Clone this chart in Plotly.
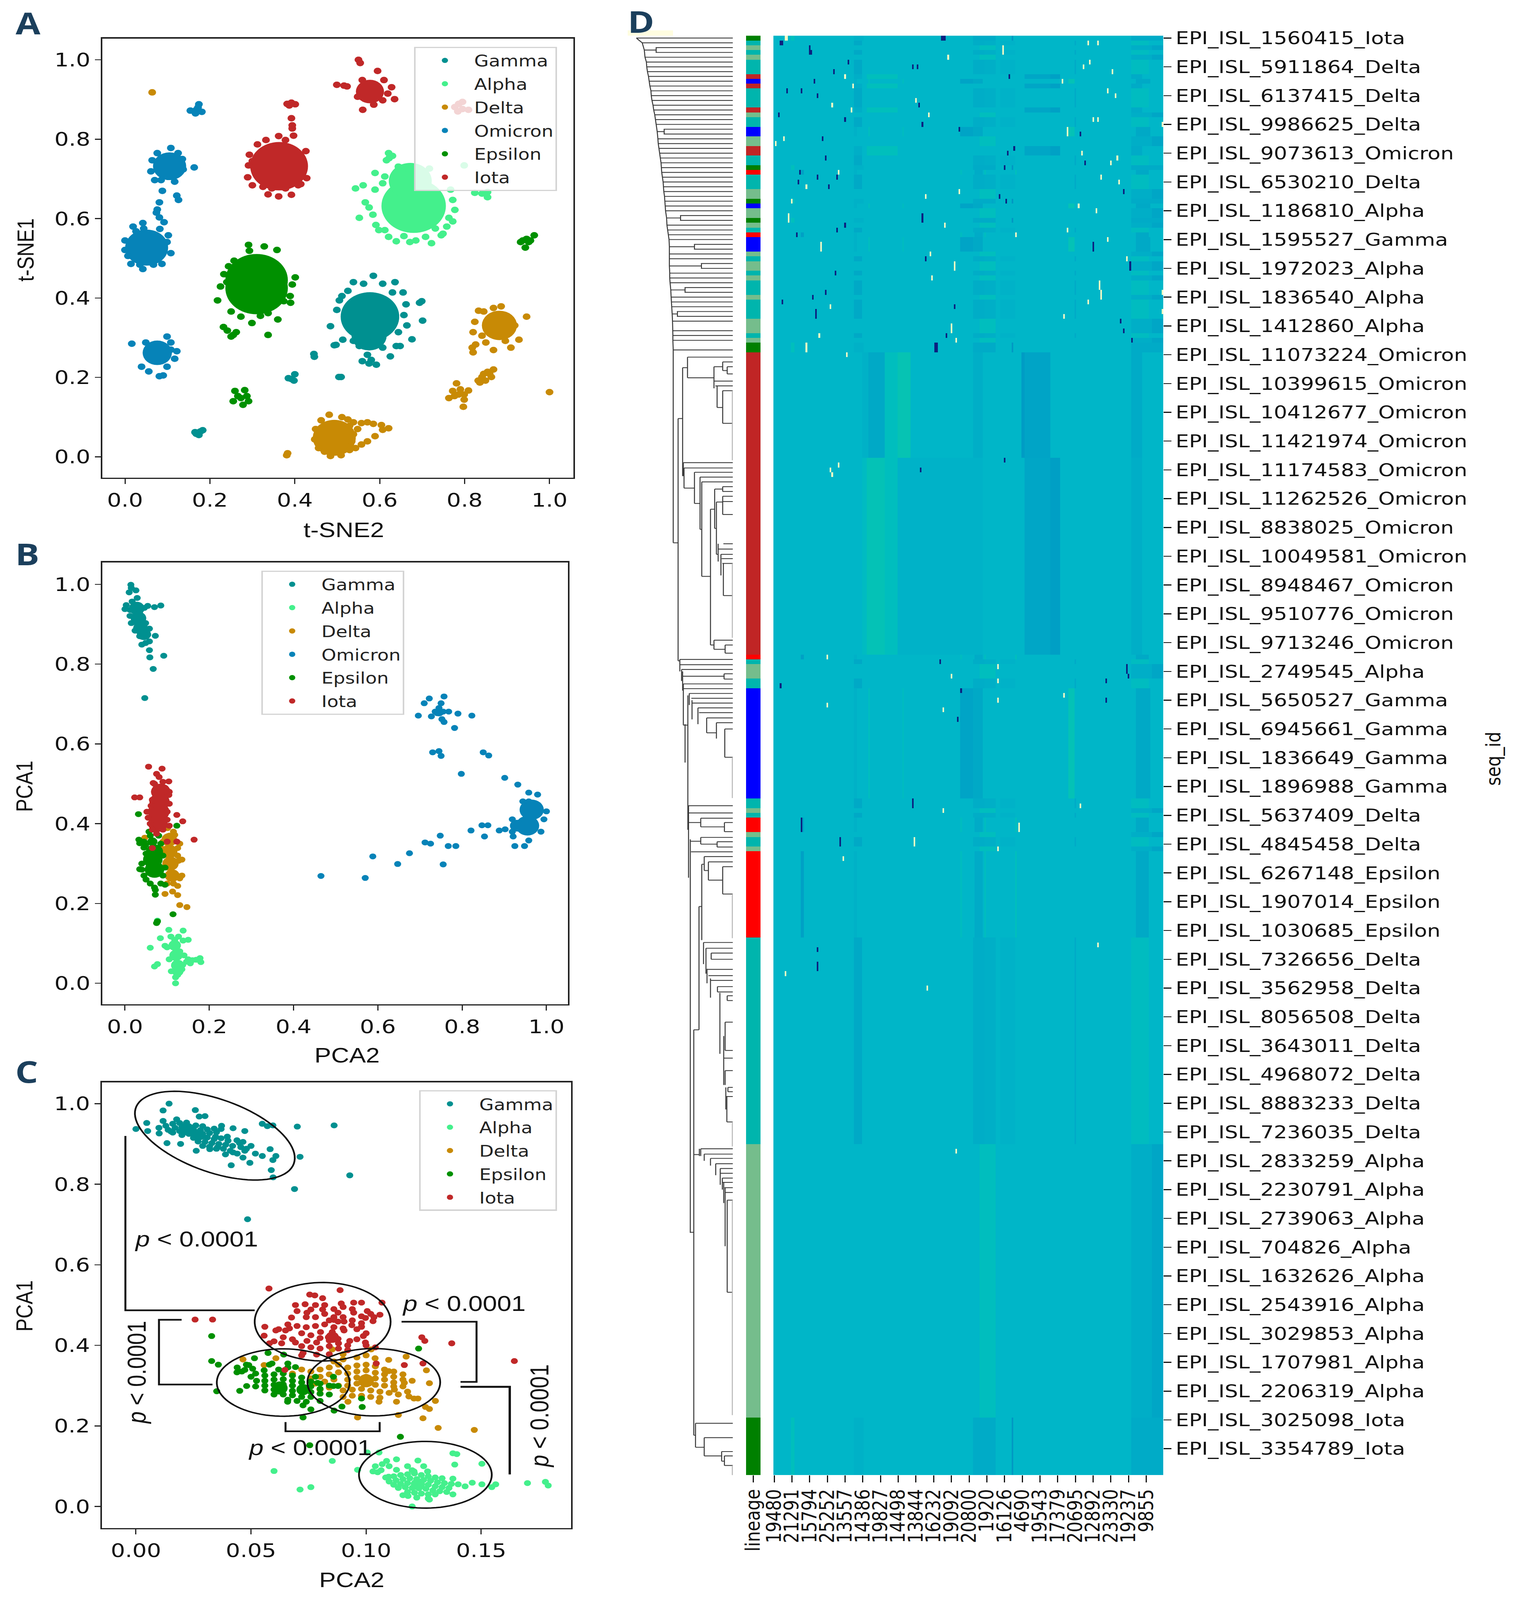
import numpy as np
import plotly.graph_objects as go

W, H = 3876, 4893
M = 40  # page margin, large enough that the legends do not push the plot area

lineages = ["Gamma", "Alpha", "Delta", "Omicron", "Epsilon", "Iota"]
colors = {"Gamma": "#009090", "Alpha": "#44F08C", "Delta": "#C88A05",
          "Omicron": "#0683B8", "Epsilon": "#009000", "Iota": "#C02828"}

# panel A, t-SNE (x, y)
a_gamma = [(.585,.456),(.538,.440),(.636,.440),(.562,.436),(.607,.436),(.525,.418),(.655,.414),(.511,.405),(.630,.414),
           (.662,.384),(.505,.394),(.499,.370),(.694,.388),(.699,.392),(.701,.343),(.657,.357),(.484,.329),(.664,.331),
           (.644,.314),(.676,.296),(.513,.295),(.538,.292),(.493,.281),(.552,.279),(.575,.288),(.607,.275),(.639,.279),
           (.625,.253),(.571,.257),(.580,.244),(.559,.241),(.575,.235),(.592,.232),(.648,.279),(.497,.282),
           (.172,.061),(.168,.058),(.178,.064),(.183,.067),(.174,.055),(.165,.062),
           (.392,.196),(.400,.208),(.385,.198),(.398,.192),(.445,.259),(.446,.252),(.509,.201),(.504,.201)]
a_alpha = [(.621,.765),(.630,.758),(.616,.747),(.622,.752),(.589,.715),(.612,.706),(.639,.711),(.644,.731),(.667,.726),
           (.717,.726),(.694,.724),(.799,.734),(.561,.684),(.543,.676),(.589,.673),(.607,.689),(.767,.673),(.824,.665),
           (.854,.667),(.854,.654),(.841,.663),(.772,.647),(.566,.641),(.575,.628),(.552,.602),(.584,.610),(.591,.584),
           (.598,.571),(.612,.571),(.777,.622),(.763,.602),(.758,.580),(.745,.558),(.722,.538),(.708,.554),(.671,.541),
           (.685,.545),(.639,.543),(.621,.554),(.657,.556),(.772,.593),(.731,.575),(.749,.562)]
a_delta = [(.064,.918),(1.0,.163),(.383,.009),(.381,.004),(.833,.368),(.845,.366),(.886,.379),(.868,.375),(.946,.353),
           (.824,.340),(.820,.314),(.841,.305),(.928,.295),(.826,.283),(.818,.275),(.820,.263),(.868,.269),(.909,.275),
           (.850,.288),(.896,.292),(.918,.331),(.855,.327),
           (.868,.220),(.854,.214),(.845,.209),(.863,.201),(.832,.192),(.849,.192),(.841,.201),(.859,.209),(.836,.187),
           (.781,.185),(.809,.167),(.799,.157),(.772,.166),(.763,.148),(.786,.157),(.776,.153),(.799,.144),(.797,.126),(.790,.170),
           (.481,.106),(.462,.092),(.449,.070),(.447,.044),(.456,.022),(.470,.013),(.484,.002),(.509,.004),(.529,.017),
           (.543,.022),(.511,.100),(.525,.094),(.538,.087),(.557,.085),(.571,.087),(.585,.083),(.604,.080),(.621,.072),
           (.607,.068),(.548,.070),(.589,.052),(.571,.039),(.557,.031),(.534,.039),(.538,.057),(.529,.078)]
a_omicron = [(.174,.888),(.154,.872),(.168,.874),(.181,.869),(.166,.865),(.172,.880),
             (.108,.778),(.076,.765),(.125,.765),(.064,.747),(.135,.750),(.061,.719),(.137,.724),(.163,.729),(.070,.697),
             (.085,.697),(.117,.693),(.088,.670),(.122,.658),(.126,.647),
             (.081,.641),(.076,.623),(.074,.615),(.081,.603),(.092,.591),(.082,.574),
             (.042,.589),(.019,.580),(.026,.568),(.044,.575),(.0,.545),(.0,.521),(.007,.506),(.014,.486),(.042,.473),
             (.067,.484),(.087,.486),(.108,.513),(.102,.558),(.099,.541),(.035,.484),
             (.016,.285),(.099,.303),(.108,.288),(.122,.266),(.117,.247),(.099,.227),(.090,.205),(.081,.203),(.039,.227),
             (.056,.215),(.108,.270),(.049,.288)]
a_epsilon = [(.291,.534),(.328,.530),(.358,.521),(.293,.519),(.257,.494),(.244,.480),(.233,.460),(.240,.440),(.225,.429),
             (.401,.452),(.394,.434),(.389,.405),(.390,.388),(.218,.394),(.250,.366),(.273,.353),(.299,.337),(.319,.355),
             (.337,.362),(.360,.346),(.374,.392),(.337,.307),(.232,.327),(.241,.318),(.255,.307),(.262,.314),(.250,.303),
             (.932,.541),(.946,.549),(.964,.558),(.955,.545),(.943,.527),(.937,.545),(.951,.541),
             (.282,.168),(.259,.166),(.255,.140),(.273,.148),(.291,.140),(.278,.131),(.266,.153),(.287,.153)]
a_iota = [(.382,.889),(.392,.892),(.401,.888),(.387,.885),(.392,.853),(.394,.835),(.394,.827),(.397,.809),(.362,.808),
          (.332,.798),(.312,.787),(.378,.798),(.293,.761),(.426,.770),(.300,.745),(.291,.734),(.289,.704),(.300,.684),
          (.428,.702),(.414,.687),(.408,.684),(.325,.680),(.337,.661),(.362,.656),(.392,.660),(.346,.676),(.378,.676),
          (.550,1.0),(.554,.992),(.595,.972),(.559,.949),(.610,.949),(.499,.937),(.516,.935),(.523,.933),(.628,.931),
          (.619,.915),(.548,.907),(.635,.901),(.607,.898),(.586,.887),(.560,.874),
          (.786,.889),(.777,.881),(.795,.876),(.809,.874),(.784,.870),(.795,.894)]
# dense middles of the clusters
a_gamma_core = [(.577,.353),(.575,.305)]
a_alpha_core = [(.680,.632),(.672,.695)]
a_delta_core = [(.882,.331),(.493,.048)]
a_omicron_core = [(.105,.732),(.051,.527),(.076,.262)]
a_epsilon_core = [(.310,.445),(.310,.425)]
a_iota_core = [(.363,.732),(.577,.920)]

# panel B, PCA
b_gamma = [(.014,.999),(.015,.991),(.026,.985),(.010,.980),(.029,.966),(.017,.957),(.003,.948),(.021,.944),(.0,.938),
           (.012,.936),(.026,.941),(.035,.932),(.054,.946),(.070,.943),(.085,.947),(.046,.941),(.012,.921),(.026,.920),
           (.040,.920),(.015,.903),(.030,.899),(.049,.903),(.024,.884),(.040,.886),(.058,.889),(.035,.870),(.054,.874),
           (.072,.871),(.040,.849),(.058,.857),(.049,.853),(.058,.835),(.092,.821),(.059,.817),(.067,.788),(.047,.715)]
b_alpha = [(.120,.0),(.125,.021),(.118,.109),(.077,.157),(.104,.134),(.138,.132),(.084,.113),(.150,.109),(.138,.107),
           (.060,.089),(.077,.048),(.070,.042),(.178,.063),(.180,.053),(.169,.059),(.155,.050),(.146,.054),(.137,.046),
           (.095,.094),(.109,.117),(.127,.117),(.100,.090),(.130,.080),(.140,.070),(.150,.060),(.160,.058),(.110,.030),
           (.120,.015),(.135,.035),(.105,.060)]
b_delta = [(.101,.389),(.118,.372),(.125,.339),(.127,.307),(.130,.263),(.125,.244),(.095,.224),(.113,.230),(.125,.221),
           (.130,.196),(.147,.191),(.047,.365),(.090,.355),(.085,.340),(.130,.350),(.125,.320),(.135,.310),(.135,.270),
           (.115,.250),(.100,.250),(.100,.290),(.115,.380),(.105,.370)]
b_omicron = [(.757,.719),(.722,.714),(.710,.702),(.750,.702),(.745,.690),(.790,.676),(.823,.671),(.696,.671),(.727,.669),
             (.741,.677),(.768,.681),(.757,.655),(.752,.662),(.782,.640),(.755,.681),(.736,.681),
             (.730,.579),(.745,.582),(.750,.570),(.850,.579),(.863,.571),(.798,.525),(.901,.515),(.932,.498),(.958,.478),
             (.979,.473),(.944,.456),(.958,.456),(1.0,.431),(.994,.411),(.987,.380),(.888,.383),(.902,.386),(.919,.411),
             (.919,.380),(.921,.368),(.925,.344),(.948,.344),(.958,.358),(.847,.396),(.861,.396),(.821,.383),(.853,.368),
             (.748,.370),(.712,.353),(.725,.350),(.767,.344),(.785,.344),(.675,.326),(.588,.318),(.647,.299),(.755,.298),
             (.465,.269),(.570,.264)]
b_epsilon = [(.032,.424),(.123,.395),(.033,.360),(.035,.351),(.057,.380),(.035,.286),(.049,.347),(.072,.222),(.077,.155),
             (.075,.151),(.114,.173),(.095,.247),(.072,.234),(.045,.340),(.050,.325),(.040,.300),(.040,.285),(.045,.270),
             (.050,.260),(.060,.250),(.070,.240),(.085,.250),(.090,.270),(.095,.290),(.090,.320),(.085,.350),(.080,.370),
             (.060,.370),(.045,.355)]
b_iota = [(.056,.543),(.088,.538),(.075,.525),(.081,.517),(.104,.506),(.023,.466),(.035,.466),(.123,.422),(.137,.406),
          (.100,.355),(.123,.355),(.164,.360),(.065,.339),(.067,.502),(.104,.472),(.060,.400),(.055,.415),(.052,.430),
          (.062,.445),(.065,.460),(.070,.480),(.070,.500),(.105,.480),(.105,.450),(.100,.430),(.100,.410),(.105,.395),
          (.090,.385),(.075,.375),(.065,.385),(.090,.505),(.095,.490)]
b_gamma_core = [(.028,.940),(.032,.915),(.037,.890),(.045,.875)]
b_alpha_core = [(.118,.095),(.121,.070),(.125,.045),(.125,.030)]
b_delta_core = [(.105,.360),(.105,.330),(.108,.300),(.112,.270)]
b_omicron_core = [(.965,.435),(.955,.395),(.930,.395),(.745,.680)]
b_epsilon_core = [(.066,.310),(.070,.285),(.070,.330),(.065,.355)]
b_iota_core = [(.085,.480),(.082,.455),(.080,.430),(.078,.400)]

# panel C, PCA zoomed in
c_gamma = [(.0144,1.0),(.0118,.983),(.0258,.984),(.0275,.968),(.030,.969),(.0,.937),(.0047,.952),(.0051,.932),(.0118,.957),
           (.0177,.961),(.0101,.926),(.0135,.902),(.0194,.900),(.0262,.883),(.0321,.887),(.0389,.874),(.0414,.847),(.0422,.879),
           (.0422,.939),(.0473,.932),(.0465,.905),(.0473,.883),(.0465,.866),(.0495,.853),(.0519,.876),(.0549,.950),(.0571,.944),
           (.0595,.946),(.0701,.943),(.0583,.887),(.0549,.870),(.0608,.870),(.0713,.868),(.0595,.860),(.0588,.835),(.0596,.817),
           (.0689,.788),(.0929,.822),(.0861,.946),(.0485,.713),(.0372,.945),(.0346,.918),(.0397,.918),(.0439,.909),(.0355,.892),
           (.0287,.918),(.0456,.892),(.0152,.931),(.0203,.944),
           (.010,.940),(.013,.945),(.016,.950),(.019,.952),(.022,.953),(.014,.935),(.017,.940),(.020,.942),(.023,.944),(.026,.946),
           (.029,.944),(.016,.928),(.019,.932),(.022,.935),(.025,.936),(.028,.934),(.031,.936),(.034,.938),(.037,.937),(.020,.922),
           (.023,.925),(.026,.926),(.029,.925),(.032,.927),(.035,.929),(.025,.915),(.028,.917),(.031,.916),(.034,.912),(.037,.914),
           (.040,.908),(.027,.906),(.030,.905),(.033,.902),(.036,.900),(.039,.898),(.029,.895),(.032,.893),(.035,.888),(.042,.895),
           (.045,.902),(.038,.888),(.041,.883),(.044,.876),(.048,.888),(.050,.895)]
c_alpha = [(.06,.088),(.0713,.042),(.076,.048),(.0853,.113),(.0963,.091),(.1377,.132),(.1394,.130),(.1503,.106),(.1005,.134),
           (.1056,.134),(.1089,.113),(.1132,.117),(.1225,.114),(.1267,.087),(.1385,.104),(.103,.087),(.12,.0),(.1275,.017),
           (.1182,.026),(.1377,.030),(.1461,.059),(.1503,.055),(.1546,.048),(.1563,.055),(.1701,.058),(.1779,.061),(.1791,.052),
           (.1377,.069),(.1098,.074),(.1132,.091),(.1208,.087),
           (.1085,.072),(.112,.075),(.115,.078),(.118,.080),(.121,.082),(.124,.078),(.127,.075),(.13,.072),(.133,.07),(.11,.062),
           (.113,.065),(.116,.068),(.119,.07),(.122,.068),(.125,.066),(.128,.064),(.131,.06),(.134,.058),(.137,.056),(.14,.055),
           (.143,.05),(.112,.054),(.115,.056),(.118,.058),(.121,.058),(.124,.056),(.127,.054),(.13,.05),(.133,.048),(.136,.046),
           (.114,.046),(.117,.048),(.12,.046),(.123,.045),(.126,.044),(.129,.04),(.132,.038),(.135,.036),(.118,.036),(.121,.034),
           (.124,.032),(.127,.03),(.13,.03),(.116,.028),(.122,.022),(.127,.02),(.11,.1),(.107,.105),(.104,.1),(.118,.1),(.125,.1),
           (.105,.085),(.1065,.09),(.12,.09)]
c_delta = [(.1313,.195),(.147,.190),(.0963,.221),(.1247,.219),(.1275,.242),(.1258,.247),(.1301,.262),(.1225,.268),(.114,.227),
           (.1186,.273),(.1132,.260),(.1275,.306),(.1262,.338),(.1174,.372),(.1098,.336),(.1166,.307),(.1123,.290),(.1208,.268),
           (.1098,.364),(.1039,.368),(.0465,.365),(.0557,.351),(.0608,.368),(.1056,.260),(.0921,.260),(.0853,.390),(.1022,.390),
           (.092,.345),(.096,.350),(.100,.352),(.104,.348),(.108,.340),(.112,.335),(.092,.330),(.096,.335),(.100,.338),(.104,.332),
           (.108,.328),(.112,.322),(.116,.328),(.092,.315),(.096,.320),(.100,.322),(.104,.318),(.108,.315),(.112,.308),(.116,.315),
           (.120,.312),(.092,.300),(.096,.305),(.100,.306),(.104,.302),(.108,.300),(.112,.298),(.116,.298),(.090,.288),(.094,.290),
           (.098,.292),(.102,.288),(.106,.285),(.110,.282),(.114,.278),(.118,.285),(.094,.275),(.098,.275),(.102,.272),(.106,.270),
           (.090,.272),(.076,.335),(.080,.340),(.084,.345),(.088,.352),(.076,.318),(.080,.322),(.084,.328),(.088,.333),(.078,.305),
           (.082,.310),(.086,.315),(.088,.300),(.084,.295),(.080,.290),(.072,.340),(.068,.330),(.086,.360),(.090,.365),(.096,.370),
           (.100,.375),(.090,.378)]
c_epsilon = [(.0329,.423),(.1228,.392),(.0329,.361),(.0358,.352),(.0351,.286),(.0574,.381),(.0642,.377),(.0515,.368),(.0439,.333),
             (.0473,.339),(.0507,.342),(.0557,.338),(.049,.351),(.0451,.287),(.0481,.299),(.0726,.221),(.0726,.251),(.076,.241),
             (.0659,.260),(.0858,.322),(.0858,.299),(.0878,.299),(.098,.268),(.0983,.247),(.0895,.248),(.0861,.238),(.1149,.173),
             (.0755,.152),(.0789,.307),(.0693,.346),(.0524,.312),(.0591,.355),
             (.046,.335),(.052,.330),(.056,.325),(.060,.328),(.064,.330),(.068,.325),(.072,.320),(.056,.312),(.060,.315),(.064,.316),
             (.068,.312),(.072,.308),(.076,.310),(.080,.305),(.052,.298),(.056,.300),(.060,.302),(.064,.303),(.068,.300),(.072,.296),
             (.076,.298),(.080,.292),(.084,.300),(.056,.288),(.060,.290),(.064,.290),(.068,.287),(.072,.284),(.076,.284),(.080,.280),
             (.084,.278),(.060,.278),(.064,.278),(.068,.276),(.072,.272),(.076,.272),(.066,.265),(.070,.262),(.074,.260),(.080,.262),
             (.062,.340),(.066,.345),(.058,.352),(.05,.322),(.078,.322),(.066,.355),(.048,.352),(.044,.345)]
c_iota = [(.0578,.541),(.0887,.537),(.0755,.526),(.0777,.524),(.0811,.517),(.0693,.500),(.0735,.502),(.1069,.506),(.0946,.506),
          (.098,.506),(.0892,.504),(.076,.489),(.0811,.489),(.0676,.469),(.0743,.481),(.0257,.464),(.0333,.464),(.0878,.481),
          (.0946,.481),(.1005,.485),(.1034,.470),(.0997,.468),(.0861,.463),(.0904,.459),(.0938,.450),(.098,.446),(.065,.437),
          (.0608,.437),(.0667,.442),(.0557,.424),(.0633,.405),(.0693,.407),(.0743,.411),(.0785,.407),(.0802,.433),(.0853,.433),
          (.0836,.420),(.0878,.416),(.0929,.411),(.0988,.423),(.0997,.407),(.0904,.437),(.1242,.420),(.1255,.411),(.1372,.405),
          (.1644,.361),(.1247,.355),(.1166,.351),(.1044,.355),(.0647,.339),(.0785,.377),(.0726,.381),(.0878,.459),
          (.066,.452),(.070,.448),(.074,.445),(.078,.448),(.082,.452),(.086,.445),(.090,.442),(.094,.462),(.098,.472),(.102,.478),
          (.072,.430),(.076,.425),(.080,.418),(.084,.412),(.088,.405),(.092,.400),(.096,.415),(.100,.430),(.068,.415),(.072,.398),
          (.076,.395),(.080,.392),(.084,.398),(.088,.392),(.092,.388),(.060,.410),(.064,.420),(.058,.405),(.078,.470),(.082,.478),
          (.086,.490),(.090,.470),(.094,.490),(.098,.455),(.086,.470),(.082,.500),(.090,.495),(.084,.462),(.074,.470),(.078,.500),
          (.070,.485),(.062,.440),(.056,.446),(.103,.460),(.106,.476),(.096,.440),(.1,.400),(.104,.395),(.072,.375),(.084,.378)]
c_gamma_core = [(.023,.935),(.027,.922)]
c_alpha_core = [(.1225,.055)]
c_delta_core = [(.100,.312)]
c_epsilon_core = [(.0625,.294),(.0726,.290)]
c_iota_core = [(.0853,.420)]

# panel D labels
row_labels = ["EPI_ISL_1560415_Iota", "EPI_ISL_5911864_Delta", "EPI_ISL_6137415_Delta", "EPI_ISL_9986625_Delta",
              "EPI_ISL_9073613_Omicron", "EPI_ISL_6530210_Delta", "EPI_ISL_1186810_Alpha", "EPI_ISL_1595527_Gamma",
              "EPI_ISL_1972023_Alpha", "EPI_ISL_1836540_Alpha", "EPI_ISL_1412860_Alpha", "EPI_ISL_11073224_Omicron",
              "EPI_ISL_10399615_Omicron", "EPI_ISL_10412677_Omicron", "EPI_ISL_11421974_Omicron", "EPI_ISL_11174583_Omicron",
              "EPI_ISL_11262526_Omicron", "EPI_ISL_8838025_Omicron", "EPI_ISL_10049581_Omicron", "EPI_ISL_8948467_Omicron",
              "EPI_ISL_9510776_Omicron", "EPI_ISL_9713246_Omicron", "EPI_ISL_2749545_Alpha", "EPI_ISL_5650527_Gamma",
              "EPI_ISL_6945661_Gamma", "EPI_ISL_1836649_Gamma", "EPI_ISL_1896988_Gamma", "EPI_ISL_5637409_Delta",
              "EPI_ISL_4845458_Delta", "EPI_ISL_6267148_Epsilon", "EPI_ISL_1907014_Epsilon", "EPI_ISL_1030685_Epsilon",
              "EPI_ISL_7326656_Delta", "EPI_ISL_3562958_Delta", "EPI_ISL_8056508_Delta", "EPI_ISL_3643011_Delta",
              "EPI_ISL_4968072_Delta", "EPI_ISL_8883233_Delta", "EPI_ISL_7236035_Delta", "EPI_ISL_2833259_Alpha",
              "EPI_ISL_2230791_Alpha", "EPI_ISL_2739063_Alpha", "EPI_ISL_704826_Alpha", "EPI_ISL_1632626_Alpha",
              "EPI_ISL_2543916_Alpha", "EPI_ISL_3029853_Alpha", "EPI_ISL_1707981_Alpha", "EPI_ISL_2206319_Alpha",
              "EPI_ISL_3025098_Iota", "EPI_ISL_3354789_Iota"]
col_labels = ["19480", "21291", "15794", "25252", "13557", "14386", "19827", "14498", "13844", "16232", "19092",
              "20800", "1920", "16126", "4690", "19543", "17379", "20695", "12892", "23330", "19237", "9855"]

# lineage of each run of rows: (first row, last row, name)
lineage_runs = [(0,0,"Iota"),(1,1,"Delta"),(2,2,"Alpha"),(3,3,"Delta"),(4,4,"Alpha"),(5,7,"Delta"),(8,8,"Omicron"),(9,9,"Gamma"),
                (10,10,"Omicron"),(11,14,"Delta"),(15,15,"Omicron"),(16,16,"Alpha"),(17,18,"Delta"),(19,20,"Gamma"),(21,22,"Alpha"),
                (23,24,"Omicron"),(25,26,"Delta"),(27,27,"Iota"),(28,28,"Epsilon"),(29,31,"Delta"),(32,33,"Alpha"),(34,34,"Iota"),
                (35,35,"Gamma"),(36,37,"Alpha"),(38,38,"Iota"),(39,39,"Alpha"),(40,40,"Delta"),(41,41,"Epsilon"),(42,44,"Gamma"),
                (45,45,"Alpha"),(46,46,"Delta"),(47,48,"Alpha"),(49,49,"Delta"),(50,50,"Alpha"),(51,53,"Delta"),(54,54,"Alpha"),
                (55,58,"Delta"),(59,61,"Alpha"),(62,62,"Delta"),(63,63,"Alpha"),(64,65,"Iota"),(66,128,"Omicron"),(129,129,"Epsilon"),
                (130,130,"Delta"),(131,133,"Alpha"),(134,135,"Delta"),(136,158,"Gamma"),(159,160,"Delta"),(161,161,"Alpha"),
                (162,162,"Delta"),(163,165,"Epsilon"),(166,166,"Alpha"),(167,168,"Delta"),(169,169,"Alpha"),(170,187,"Epsilon"),
                (188,230,"Delta"),(231,287,"Alpha"),(288,299,"Iota")]

# shaded column ranges per lineage: (first col, last col, value)
bands_delta = [(50,55,.45),(124,131,.465),(131,138,.475),(141,150,.485),(187,188,.46),(222,233,.54)]
bands_alpha = [(128,138,.55),(222,235,.47),(235,242,.44)]
bands_gamma = [(50,52,.48),(59,60,.55),(80,81,.54),(116,124,.43),(124,130,.45),(183,187,.58),(225,234,.45)]
bands_epsilon = [(17,19,.42),(50,52,.48),(116,117,.54),(125,130,.46),(131,132,.55),(150,151,.56),(225,233,.45)]
bands_iota = [(11,13,.56),(50,56,.48),(124,138,.46),(148,149,.39),(222,242,.46)]
bands_omicron = [(50,55,.47),(58,77,.56),(156,172,.44),(172,178,.42),(222,229,.46)]
bands_omicron_upper = [(55,59,.48),(59,69,.45),(69,77,.55),(77,85,.59),(124,130,.47),(154,156,.40),(156,172,.43),(222,229,.46)]
bands_omicron_lower = [(55,58,.53),(58,69,.58),(69,77,.55),(77,130,.485),(156,172,.44),(172,178,.41),(222,229,.47)]

speck_dark = [(0,104),(0,105),(0,106),(1,4),(1,5),(2,22),(3,22),(3,23),(5,46),(6,86),(6,89),(7,37),(8,146),(9,25),(11,8),(11,17),
              (12,27),(14,90),(16,3),(17,44),(18,92),(19,115),(20,190),(21,30),(23,149),(24,145),(25,32),(26,193),(27,143),(28,16),
              (29,27),(29,39),(30,15),(31,34),(32,217),(33,140),(34,144),(37,92),(38,92),(39,44),(40,39),(41,14),(43,198),(44,198),
              (46,94),(47,221),(48,221),(49,38),(53,32),(54,24),(55,5),(56,112),(57,26),(58,26),(59,215),(61,217),(62,107),(63,222),
              (64,100),(64,101),(65,100),(65,101),(88,143),(90,91),(130,103),(131,219),(132,219),(133,220),(135,4),(134,206),
              (136,116),(138,206),(142,114),(159,86),(160,86),(163,17),(164,17),(165,17),(167,41),(168,41),(190,27),(193,27),(194,27)]
speck_pale = [(0,7),(0,8),(1,195),(1,201),(2,142),(3,142),(4,108),(5,196),(6,192),(7,210),(8,44),(9,179),(10,49),(11,207),(12,212),
              (13,88),(14,36),(15,48),(16,96),(17,198),(17,201),(18,241),(19,182),(20,182),(21,6),(22,1),(24,191),(25,213),(26,209),
              (28,40),(29,203),(30,214),(31,20),(32,115),(33,94),(34,11),(35,189),(36,200),(37,9),(38,9),(39,106),(40,182),(41,150),
              (42,207),(43,29),(44,29),(45,97),(46,219),(47,112),(48,112),(50,98),(51,202),(52,202),(53,203),(54,203),(53,241),
              (55,195),(56,35),(57,241),(58,180),(60,110),(61,110),(62,28),(63,113),(64,20),(65,20),(66,45),(89,40),(90,35),(91,36),
              (129,33),(131,139),(133,110),(134,139),(138,139),(139,33),(140,105),(137,180),(160,190),(161,105),(164,152),(165,152),
              (167,87),(168,87),(169,139),(171,43),(189,201),(195,7),(198,95),(232,113)]

# dendrogram, in its own distance scale (leaves at 332)
dend_spine = [(0,55),(1,72),(2.5,78),(4,80),(5,84),(6,85),(7,87),(8,90),(9,92),(10,94),(11,97),(12,98),(13,100),(14,103),(15,105),
              (16,108),(17,110),(18,112),(19.5,115),(21,117),(22,118),(23,120),(24,122),(25,124),(26,126),(27,127),(28,128),(29,130),
              (30,132),(31,133),(32,134),(33,136),(34,137),(35,138),(36,139),(37.5,142),(39,143),(40,145),(41,147),(42,149),(43.5,150),
              (45,150),(46,150),(47.5,150),(49,151),(50,151),(51,152),(52.5,154),(54,155),(55,156),(56,157),(57.5,158),(59,159),
              (61,160),(62,160),(63,160),(65,161),(105.2,161)]
dend_pairs = [(2,3,112),(19,20,135),(37,38,182),(43,44,222),(47,48,242),(52,53,195),(57,58,173)]
# (row, from, to)
dend_h = [(0,55,332),(1,72,332),(2.5,78,112),(4,80,332),(5,84,332),(6,85,332),(7,87,332),(8,90,332),(9,92,332),(10,94,332),(11,97,332),
          (12,98,332),(13,100,332),(14,103,332),(15,105,332),(16,108,332),(17,110,332),(18,112,332),(19.5,115,135),(21,117,332),
          (22,118,332),(23,120,332),(24,122,332),(25,124,332),(26,126,332),(27,127,332),(28,128,332),(29,130,332),(30,132,332),
          (31,133,332),(32,134,332),(33,136,332),(34,137,332),(35,138,332),(36,139,332),(37.5,142,182),(39,143,332),(40,145,332),
          (41,147,332),(42,149,332),(43.5,150,222),(45,150,332),(46,150,332),(47.5,150,242),(49,151,332),(50,151,332),(51,152,332),
          (52.5,154,195),(54,155,332),(55,156,332),(56,157,332),(57.5,158,173),(59,159,332),(61,160,332),(62,160,332),(63,160,332),
          (65,161,332),(105.2,161,175),
          (79.3,175,188),(68.7,188,202),(66.5,202,332),(70.8,202,278),(68.5,278,303),(67.5,303,332),(69.3,303,316),(68.5,316,332),(70,316,332),
          (71.5,278,332),(72.5,282,332),(73.5,303,332),(80.3,303,332),(77,287,303),
          (88.5,190,332),(89.6,192,332),(93.8,192,222),(90.5,222,332),(97,222,238),(91.5,238,332),(102.4,238,243),(92.5,243,332),(112.2,243,268),
          (98.2,268,280),(94,280,303),(93.5,303,332),(94.5,303,332),(102.2,280,285),(96.7,285,303),(95.5,303,332),(96.6,303,332),(99.3,303,332),
          (107.6,285,290),(105.4,305,332),(106.5,290,332),(107.6,298,332),(108.5,300,332),(109.5,302,332),(116.2,305,332),
          (126.5,268,278),(125.5,278,332),(127.4,278,310),(126.5,310,332),(128.2,310,332),
          (129.8,175,180),(129.5,180,332),(130.6,180,332),(131.6,185,332),(133,188,307),(132.5,307,332),(133.6,307,332),(134.6,190,332),(135.6,190,332),
          (136.6,207,332),(137.6,213,332),(138.6,215,332),(139.6,232,332),(140.6,235,332),(141.7,257,332),(142.7,285,332),(144,309,332),(149.9,309,332),
          (144.8,257,285),(143.2,190,203),
          (160,203,332),(161.5,205,332),(162.6,240,332),(163.5,205,240),(164.4,240,308),(163.5,308,332),(165.4,308,332),
          (167.4,210,240),(166.6,240,332),(168,240,287),(167.5,287,332),(168.6,287,332),(169.6,212,332),
          (172.2,243,250),(170.6,250,332),(173.5,250,262),(171.7,262,332),(175.5,262,303),(172.7,303,332),(178.4,303,332),(181,235,243),
          (188.5,248,332),(189.7,255,332),(190.7,270,332),(192,270,332),(194.1,258,332),(195.4,262,332),(196.4,268,332),(197.7,288,332),
          (198.8,288,332),(199.6,316,332),(200.6,316,332),(205.1,310,332),(211,310,332),(212.6,306,332),(215.2,310,332),(218.7,318,332),
          (219.6,318,332),(220.6,312,332),(225.9,315,332),(206.7,220,235),(248.9,210,220),
          (232.7,220,236),(231.5,240,332),(232.6,250,332),(233.5,268,332),(234.6,283,332),(235.6,296,332),(236.6,296,332),(237.6,302,332),
          (238.5,302,332),(239.6,308,332),(240.6,310,332),(242.2,316,332),(261.4,316,332),
          (291.2,220,225),(288.7,225,332),(293.7,225,250),(291.7,250,332),(295.5,250,300),(294.6,300,332),(296.6,300,308),(295.5,308,332),(297.5,308,332)]
# (distance, from row, to row)
dend_v = [(175,79.3,129.8),(188,68.7,91.3),(202,66.5,70.8),(278,68.5,73),(303,67.5,69.3),(316,68.5,70),(287,72.5,77),(303,73.5,80.3),
          (190,88.5,91.3),(192,89.6,93.8),(222,90.5,97),(238,91.5,102.4),(243,92.5,112.2),(268,98.2,126.5),(280,94,102.2),(303,93.5,94.5),
          (285,96.7,107.6),(303,95.5,99.3),(290,105.4,109.1),(298,107.6,112),(305,109.5,116.2),(278,125.5,127.4),(310,126.5,128.2),
          (180,129.5,132),(185,131.6,134),(188,132,136),(307,132.5,133.6),(190,134.6,143.2),(195,143,151),(203,137,165),(205,160,175),
          (207,136.6,139),(215,138,142),(232,139.6,143),(257,141.7,144.8),(285,142.7,146),(309,144,149.9),(240,162.6,164.4),(308,163.5,165.4),
          (210,167,249),(240,166.6,168),(287,167.5,168.6),(235,181,206.7),(243,172.2,188),(250,170.6,173.5),(262,171.7,175.5),(303,172.7,178.4),
          (248,188.5,193),(255,189.7,195),(270,190.7,192),(258,194,197),(268,196,200),(288,197.7,198.8),(295,199,211.7),(316,199.6,200.6),
          (310,205.1,211),(306,208,218.2),(310,215.2,218.2),(318,218.7,219.6),(312,218.7,223.3),(315,220.6,225.9),
          (220,206.7,291.2),(236,231.5,233),(240,231.5,233),(250,232.6,234),(268,233.5,235),(283,234.6,237),(296,235.6,239),(302,237.6,240),
          (306,238.5,242.8),(310,239.6,251.8),(316,242.2,261.4),(225,288.7,293.7),(250,291.7,295.5),(300,294.6,296.6),(308,295.5,297.5)]
# runs of leaves that merge at almost zero distance
dend_leaf_runs = [(73.5,80.3),(80.3,88),(109.5,116.2),(116.2,125),(149.9,158.4),(178.4,187.6),(225.9,231),(242.2,261.4),(261.4,287),(297.5,299.6)]


def paper(x, y):
    return (x - M) / (W - 2 * M), 1 - (y - M) / (H - 2 * M)


def dom_x(a, b):
    return [paper(a, 0)[0], paper(b, 0)[0]]


def dom_y(a, b):
    return [paper(0, b)[1], paper(0, a)[1]]


def polyline(points):
    parts = []
    for i, (x, y) in enumerate(points):
        px, py = paper(x, y)
        parts.append(("M" if i == 0 else "L") + f"{px:.5f},{py:.5f}")
    return " ".join(parts)


def ellipse(cx, cy, rx, ry, tilt=0):
    t = np.linspace(0, 2 * np.pi, 90)
    tr = np.radians(tilt)
    xs = cx + rx * np.cos(t) * np.cos(tr) - ry * np.sin(t) * np.sin(tr)
    ys = cy + rx * np.cos(t) * np.sin(tr) + ry * np.sin(t) * np.cos(tr)
    return polyline(list(zip(xs, ys))) + " Z"


def add_panel(fig, points, cores, core_sizes, xa, ya, legend, size):
    for name in points:
        core = cores[name]
        fig.add_trace(go.Scatter(x=[p[0] for p in core], y=[p[1] for p in core], mode="markers",
                                 marker=dict(color=colors[name], size=core_sizes[name], opacity=1, line_width=0),
                                 xaxis=xa, yaxis=ya, showlegend=False, hoverinfo="skip"))
        fig.add_trace(go.Scatter(x=[p[0] for p in points[name]], y=[p[1] for p in points[name]], mode="markers",
                                 name=name, legend=legend, legendgroup=legend + name,
                                 marker=dict(color=colors[name], size=size, line_width=0),
                                 xaxis=xa, yaxis=ya))


fig = go.Figure()

add_panel(fig,
          {"Gamma": a_gamma, "Alpha": a_alpha, "Delta": a_delta, "Omicron": a_omicron, "Epsilon": a_epsilon, "Iota": a_iota},
          {"Gamma": a_gamma_core, "Alpha": a_alpha_core, "Delta": a_delta_core, "Omicron": a_omicron_core,
           "Epsilon": a_epsilon_core, "Iota": a_iota_core},
          {"Gamma": [150, 90], "Alpha": [165, 110], "Delta": [90, 110], "Omicron": [85, 110, 75],
           "Epsilon": [160, 160], "Iota": [148, 72]},
          "x", "y", "legend", 20)
add_panel(fig,
          {"Gamma": b_gamma, "Alpha": b_alpha, "Delta": b_delta, "Omicron": b_omicron, "Epsilon": b_epsilon, "Iota": b_iota},
          {"Gamma": b_gamma_core, "Alpha": b_alpha_core, "Delta": b_delta_core, "Omicron": b_omicron_core,
           "Epsilon": b_epsilon_core, "Iota": b_iota_core},
          {"Gamma": [40, 40, 38, 36], "Alpha": [32, 34, 34, 30], "Delta": [40, 42, 42, 38], "Omicron": [62, 60, 36, 26],
           "Epsilon": [50, 50, 44, 26], "Iota": [50, 52, 55, 50]},
          "x2", "y2", "legend2", 18)
add_panel(fig,
          {"Gamma": c_gamma, "Alpha": c_alpha, "Delta": c_delta, "Epsilon": c_epsilon, "Iota": c_iota},
          {"Gamma": c_gamma_core, "Alpha": c_alpha_core, "Delta": c_delta_core, "Epsilon": c_epsilon_core, "Iota": c_iota_core},
          {"Gamma": [36, 34], "Alpha": [36], "Delta": [40], "Epsilon": [40, 34], "Iota": [34]},
          "x3", "y3", "legend3", 18)

# dendrogram
dx, dy = [], []
for row, x0, x1 in dend_h:
    dx += [x0, x1, None]
    dy += [row, row, None]
for x, r0, r1 in dend_v:
    dx += [x, x, None]
    dy += [r0, r1, None]
for r0, r1, x in dend_pairs:
    dx += [332, x, x, 332, None]
    dy += [r0, r0, r1, r1, None]
dx += [p[1] for p in dend_spine] + [None]
dy += [p[0] for p in dend_spine] + [None]
fig.add_trace(go.Scatter(x=dx, y=dy, mode="lines", line=dict(color="#3a3a3a", width=2.6),
                         xaxis="x4", yaxis="y4", showlegend=False, hoverinfo="skip"))
lx, ly = [], []
for r0, r1 in dend_leaf_runs:
    lx += [331, 331, None]
    ly += [r0, r1, None]
fig.add_trace(go.Scatter(x=lx, y=ly, mode="lines", line=dict(color="#b4b4b4", width=3),
                         xaxis="x4", yaxis="y4", showlegend=False, hoverinfo="skip"))

# lineage strip and the heatmap built from the rows' runs, bands and specks
n_rows, n_cols = 300, 242
strip_names = ["Gamma", "Alpha", "Delta", "Omicron", "Epsilon", "Iota"]
strip_colors = ["#0000FF", "#75BD8C", "#00B5AD", "#C02525", "#FF0000", "#008000"]
lineage_bands = {"Delta": bands_delta, "Alpha": bands_alpha, "Gamma": bands_gamma, "Epsilon": bands_epsilon,
                 "Iota": bands_iota, "Omicron": bands_omicron}
z = np.full((n_rows, n_cols), 0.5)
strip = np.zeros((n_rows, 1))
for r0, r1, name in lineage_runs:
    strip[r0:r1 + 1, 0] = strip_names.index(name)
    bands = lineage_bands[name]
    if r0 == 66:
        for c0, c1, v in bands_omicron_upper:
            z[66:88, c0:c1] = v
        for c0, c1, v in bands_omicron_lower:
            z[88:129, c0:c1] = v
        continue
    for c0, c1, v in bands:
        z[r0:r1 + 1, c0:c1] = v
for r, c in speck_dark:
    z[r, c] = 0.0
for r, c in speck_pale:
    z[r, c] = 1.0

n = len(strip_colors)
strip_scale = []
for i, c in enumerate(strip_colors):
    strip_scale += [[i / n, c], [(i + 1) / n, c]]
fig.add_trace(go.Heatmap(z=strip.tolist(), x=["lineage"], y=list(range(n_rows)), zmin=-0.5, zmax=n - 0.5,
                         colorscale=strip_scale, showscale=False, xaxis="x5", yaxis="y5", hoverinfo="skip"))
fig.add_trace(go.Heatmap(z=z.tolist(), x=list(range(n_cols)), y=list(range(n_rows)), zmin=0, zmax=1,
                         colorscale=[[0, "#0B2080"], [.2, "#0A4FB0"], [.4, "#009CC4"], [.44, "#00A6C6"], [.5, "#00B6C8"],
                                     [.56, "#00BFBC"], [.6, "#08C4B0"], [.8, "#80D8A8"], [1, "#F2F8C4"]],
                         showscale=False, xaxis="x6", yaxis="y6", hoverinfo="skip"))

tick_font = dict(family="DejaVu Sans", size=58, color="#111111")
box = dict(showline=True, linecolor="#222222", linewidth=4, mirror=True, showgrid=False, zeroline=False,
           ticks="outside", ticklen=15, tickwidth=3, tickcolor="#222222", tickfont=tick_font)
unit_ticks = [0, .2, .4, .6, .8, 1]
unit_text = ["0.0", "0.2", "0.4", "0.6", "0.8", "1.0"]


def legend_box(left, top):
    x, y = paper(left, top)
    return dict(x=x, y=y, xanchor="left", yanchor="top", xref="paper", yref="paper", bgcolor="rgba(255,255,255,0.8)",
                bordercolor="#D4D4D4", borderwidth=4, traceorder="grouped", tracegroupgap=6, itemwidth=140,
                itemsizing="trace", font=dict(family="DejaVu Sans", size=48, color="#222222"))


leaf_axis = dict(showline=False, showgrid=False, zeroline=False, showticklabels=False, ticks="")
row_range = [n_rows - 0.5, -0.5]


def note(x, y, text, family="Liberation Sans", size=64, angle=0, anchor="center", color="#111111"):
    px, py = paper(x, y)
    return dict(x=px, y=py, xref="paper", yref="paper", text=text, showarrow=False, textangle=angle,
                xanchor=anchor, yanchor="middle", font=dict(family=family, size=size, color=color))


pvalue_text = "<i>p</i> &lt; 0.0001"
annotations = [note(343, 3789, pvalue_text, size=66, anchor="left"), note(1028, 3986, pvalue_text, size=66, anchor="left"),
               note(634, 4427, pvalue_text, size=66, anchor="left"), note(350, 4197, pvalue_text, size=66, angle=-90),
               note(1381, 4330, pvalue_text, size=66, angle=-90),
               note(880, 1620, "t-SNE2"), note(65, 765, "t-SNE1", size=60, angle=-90),
               note(888, 3227, "PCA2"), note(62, 2405, "PCA1", size=60, angle=-90),
               note(900, 4831, "PCA2"), note(62, 3994, "PCA1", size=60, angle=-90),
               note(3823, 2320, "seq_id", family="DejaVu Sans", size=52, angle=-90)]
for letter, x, y in [("A", 72, 69), ("B", 70, 1693), ("C", 68, 3275), ("D", 1641, 65)]:
    annotations.append(note(x, y, f"<b>{letter}</b>", family="Open Sans", size=92, color="#1B3F5C"))

ring = dict(color="#111111", width=4.5)
bracket = dict(color="#111111", width=5)
shapes = [
    dict(type="path", path=ellipse(550, 3473, 220, 109, 25), xref="paper", yref="paper", line=ring),
    dict(type="path", path=ellipse(826, 4042, 174, 120), xref="paper", yref="paper", line=ring),
    dict(type="path", path=ellipse(725, 4228, 170, 103), xref="paper", yref="paper", line=ring),
    dict(type="path", path=ellipse(957, 4227, 170, 103), xref="paper", yref="paper", line=ring),
    dict(type="path", path=ellipse(1089, 4510, 170, 102), xref="paper", yref="paper", line=ring),
    dict(type="path", path=polyline([(321, 3474), (321, 4007), (652, 4007)]), xref="paper", yref="paper", line=bracket),
    dict(type="path", path=polyline([(465, 4036), (407, 4036), (407, 4234), (544, 4234)]), xref="paper", yref="paper", line=bracket),
    dict(type="path", path=polyline([(731, 4349), (731, 4377), (972, 4377), (972, 4349)]), xref="paper", yref="paper", line=bracket),
    dict(type="path", path=polyline([(1028, 4042), (1220, 4042), (1220, 4226), (1179, 4226)]), xref="paper", yref="paper", line=bracket),
    dict(type="path", path=polyline([(1179, 4241), (1305, 4241), (1305, 4509)]), xref="paper", yref="paper", line=dict(color="#111111", width=6)),
    dict(type="rect", x0=paper(1607, 0)[0], x1=paper(1723, 0)[0], y0=paper(0, 109)[1], y1=paper(0, 93)[1], xref="paper", yref="paper",
         fillcolor="#FFFDE0", line_width=0, layer="below"),
]

fig.update_layout(
    width=W, height=H, margin=dict(l=M, r=M, t=M, b=M), paper_bgcolor="white", plot_bgcolor="white",
    font=dict(family="DejaVu Sans"), showlegend=True, annotations=annotations, shapes=shapes,
    legend=legend_box(1060, 143), legend2=legend_box(669, 1745), legend3=legend_box(1073, 3334),
    xaxis=dict(box, domain=dom_x(262, 1468), range=[-0.0534, 1.0563], tickvals=unit_ticks, ticktext=unit_text, anchor="y"),
    yaxis=dict(box, domain=dom_y(118, 1461), range=[-0.0527, 1.0535], tickvals=unit_ticks, ticktext=unit_text, anchor="x"),
    xaxis2=dict(box, domain=dom_x(262, 1454), range=[-0.0537, 1.0510], tickvals=unit_ticks, ticktext=unit_text, anchor="y2"),
    yaxis2=dict(box, domain=dom_y(1720, 3071), range=[-0.0525, 1.055], tickvals=unit_ticks, ticktext=unit_text, anchor="x2"),
    xaxis3=dict(box, domain=dom_x(261, 1462), range=[-0.01476, 0.18904], tickvals=[0, .05, .1, .15],
                ticktext=["0.00", "0.05", "0.10", "0.15"], anchor="y3"),
    yaxis3=dict(box, domain=dom_y(3310, 4673), range=[-0.0536, 1.0528], tickvals=unit_ticks, ticktext=unit_text, anchor="x3"),
    xaxis4=dict(leaf_axis, domain=dom_x(1629, 1876), range=[55, 332], anchor="y4"),
    yaxis4=dict(leaf_axis, domain=dom_y(109, 4511), range=row_range, anchor="x4"),
    xaxis5=dict(domain=dom_x(1910, 1947), anchor="y5", showgrid=False, zeroline=False, ticks="outside", ticklen=21,
                tickwidth=3, tickcolor="#111111", tickangle=-90, tickfont=dict(family="DejaVu Sans", size=52, color="#111111")),
    yaxis5=dict(leaf_axis, domain=dom_y(109, 4511), range=row_range, anchor="x5"),
    xaxis6=dict(domain=dom_x(1980, 2978), range=[-0.5, n_cols - 0.5], anchor="y6", showgrid=False, zeroline=False, ticks="outside",
                ticklen=21, tickwidth=3, tickcolor="#111111", tickangle=-90, tickvals=[i * 11 for i in range(len(col_labels))],
                ticktext=col_labels, tickfont=dict(family="DejaVu Sans", size=52, color="#111111")),
    yaxis6=dict(domain=dom_y(109, 4511), range=row_range, anchor="x6", side="right", showgrid=False, zeroline=False, ticks="outside",
                ticklen=20, tickwidth=3, tickcolor="#111111", tickvals=[i * 6 for i in range(len(row_labels))], ticktext=row_labels,
                tickfont=dict(family="DejaVu Sans", size=54, color="#111111")),
)

# the browser window stops at 4096 px tall here, so fit the whole page into its height
fit_page = """
document.body.style.margin = '0';
document.documentElement.style.overflow = 'hidden';
var plot = document.getElementById('{plot_id}');
plot.style.transformOrigin = '0 0';
plot.style.transform = 'scaleY(' + Math.min(1, window.innerHeight / %d) + ')';
""" % H
fig.write_html("out.html", config={"displayModeBar": False}, post_script=fit_page)
